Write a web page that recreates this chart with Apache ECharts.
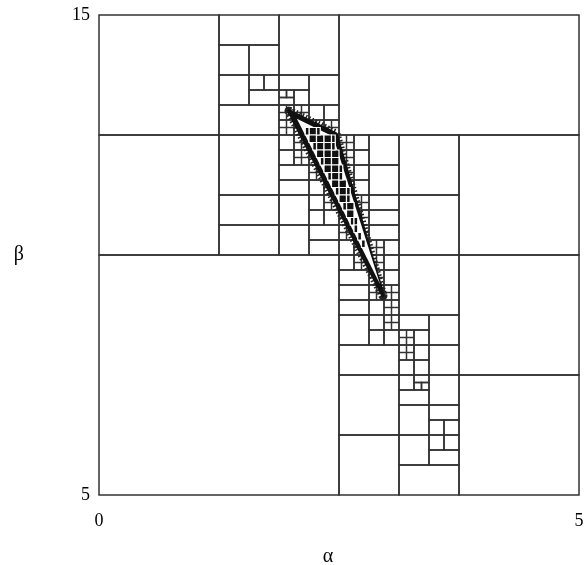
<!DOCTYPE html>
<html>
<head>
<meta charset="utf-8">
<script src="https://cdn.jsdelivr.net/npm/echarts@6/dist/echarts.min.js"></script>
<style>
  html, body { margin: 0; padding: 0; background: #fff; }
  #main { width: 587px; height: 565px; }
</style>
</head>
<body>
<div id="main"></div>
<script>
// paving boxes: [alphaMin, alphaMax, betaMin, betaMax]
var boxes = [
  [0, 2.5, 5, 10], [2.5, 5, 12.5, 15], [3.75, 5, 10, 12.5], [3.75, 5, 7.5, 10], [3.75, 5, 5, 7.5],
  [0, 1.25, 12.5, 15], [0, 1.25, 10, 12.5],
  [1.25, 1.875, 14.375, 15], [1.25, 1.5625, 13.75, 14.375], [1.5625, 1.875, 13.75, 14.375],
  [1.25, 1.5625, 13.125, 13.75], [1.5625, 1.71875, 13.4375, 13.75], [1.71875, 1.875, 13.4375, 13.75],
  [1.5625, 1.875, 13.125, 13.4375], [1.25, 1.875, 12.5, 13.125],
  [1.875, 2.5, 13.75, 15], [1.875, 2.1875, 13.4375, 13.75], [2.1875, 2.5, 13.125, 13.75],
  [2.03125, 2.1875, 13.125, 13.4375], [1.875, 1.953125, 13.28125, 13.4375],
  [1.953125, 2.03125, 13.28125, 13.4375], [1.875, 2.03125, 13.125, 13.28125],
  [2.1875, 2.34375, 12.8125, 13.125], [2.34375, 2.5, 12.8125, 13.125],
  [1.25, 1.875, 11.25, 12.5], [1.25, 1.875, 10.625, 11.25], [1.25, 1.875, 10, 10.625],
  [1.875, 2.1875, 10.625, 11.25], [1.875, 2.1875, 10, 10.625],
  [1.875, 2.03125, 12.1875, 12.5], [1.875, 2.03125, 11.875, 12.1875],
  [2.1875, 2.34375, 12.1875, 12.5], [2.34375, 2.5, 11.875, 12.1875],
  [1.875, 2.1875, 11.5625, 11.875], [1.875, 2.1875, 11.25, 11.5625],
  [2.1875, 2.34375, 11.25, 11.5625], [2.1875, 2.34375, 10.9375, 11.25],
  [2.1875, 2.34375, 10.625, 10.9375], [2.34375, 2.5, 10.625, 10.9375],
  [2.1875, 2.5, 10.3125, 10.625], [2.1875, 2.5, 10, 10.3125],
  [2.65625, 2.8125, 12.1875, 12.5], [2.65625, 2.8125, 11.875, 12.1875],
  [2.65625, 2.8125, 11.5625, 11.875], [2.65625, 2.8125, 11.25, 11.5625],
  [2.8125, 3.125, 11.875, 12.5], [2.8125, 3.125, 11.25, 11.875],
  [2.8125, 3.125, 10.9375, 11.25], [2.8125, 3.125, 10.625, 10.9375],
  [2.8125, 3.125, 10.3125, 10.625], [2.96875, 3.125, 10, 10.3125], [2.5, 2.65625, 10, 10.3125],
  [3.125, 3.75, 11.25, 12.5], [3.125, 3.75, 10, 11.25],
  [2.5, 2.65625, 9.6875, 10], [2.5, 2.8125, 9.375, 9.6875],
  [2.96875, 3.125, 9.6875, 10], [2.96875, 3.125, 9.375, 9.6875],
  [2.5, 2.8125, 9.0625, 9.375], [2.5, 2.8125, 8.75, 9.0625], [2.8125, 2.96875, 8.75, 9.0625],
  [3.125, 3.75, 8.75, 10], [2.5, 2.8125, 8.125, 8.75],
  [2.8125, 2.96875, 8.4375, 8.75], [2.8125, 2.96875, 8.125, 8.4375], [2.96875, 3.125, 8.125, 8.4375],
  [2.5, 3.125, 7.5, 8.125],
  [3.125, 3.4375, 8.4375, 8.75], [3.28125, 3.4375, 8.125, 8.4375],
  [3.28125, 3.4375, 7.8125, 8.125], [3.125, 3.28125, 7.5, 7.8125], [3.28125, 3.4375, 7.5, 7.8125],
  [3.4375, 3.75, 8.125, 8.75], [3.4375, 3.75, 7.5, 8.125],
  [2.5, 3.125, 6.25, 7.5], [2.5, 3.125, 5, 6.25],
  [3.125, 3.28125, 7.1875, 7.5], [3.28125, 3.4375, 7.34375, 7.5],
  [3.28125, 3.359375, 7.1875, 7.34375], [3.359375, 3.4375, 7.1875, 7.34375],
  [3.125, 3.4375, 6.875, 7.1875], [3.4375, 3.75, 6.875, 7.5], [3.125, 3.4375, 6.25, 6.875],
  [3.4375, 3.75, 6.5625, 6.875], [3.4375, 3.59375, 6.25, 6.5625], [3.59375, 3.75, 6.25, 6.5625],
  [3.125, 3.4375, 5.625, 6.25], [3.4375, 3.59375, 5.9375, 6.25], [3.59375, 3.75, 5.9375, 6.25],
  [3.4375, 3.75, 5.625, 5.9375], [3.125, 3.75, 5, 5.625]
];

// boxes bisected once more in both directions (drawn with their quarters)
var splitBoxes = [
  [1.875, 2.03125, 12.8125, 13.125], [2.03125, 2.1875, 12.8125, 13.125],
  [1.875, 2.03125, 12.5, 12.8125], [2.03125, 2.1875, 12.5, 12.8125],
  [2.1875, 2.34375, 12.5, 12.8125], [2.34375, 2.5, 12.5, 12.8125],
  [2.03125, 2.1875, 12.1875, 12.5], [2.34375, 2.5, 12.1875, 12.5], [2.5, 2.65625, 12.1875, 12.5],
  [2.03125, 2.1875, 11.875, 12.1875], [2.1875, 2.34375, 11.875, 12.1875], [2.5, 2.65625, 11.875, 12.1875],
  [2.1875, 2.34375, 11.5625, 11.875], [2.34375, 2.5, 11.5625, 11.875], [2.5, 2.65625, 11.5625, 11.875],
  [2.34375, 2.5, 11.25, 11.5625], [2.5, 2.65625, 11.25, 11.5625],
  [2.34375, 2.5, 10.9375, 11.25], [2.5, 2.65625, 10.9375, 11.25], [2.65625, 2.8125, 10.9375, 11.25],
  [2.5, 2.65625, 10.625, 10.9375], [2.65625, 2.8125, 10.625, 10.9375],
  [2.5, 2.65625, 10.3125, 10.625], [2.65625, 2.8125, 10.3125, 10.625],
  [2.65625, 2.8125, 10, 10.3125], [2.8125, 2.96875, 10, 10.3125],
  [2.65625, 2.8125, 9.6875, 10], [2.8125, 2.96875, 9.6875, 10],
  [2.8125, 2.96875, 9.375, 9.6875], [2.8125, 2.96875, 9.0625, 9.375],
  [2.96875, 3.125, 9.0625, 9.375], [2.96875, 3.125, 8.75, 9.0625], [2.96875, 3.125, 8.4375, 8.75],
  [3.125, 3.28125, 8.125, 8.4375], [3.125, 3.28125, 7.8125, 8.125]
];

// solution set: thin sliver outline and its inner white part
var bandOuter = [[1.979, 13.0], [2.469, 12.521], [2.958, 9.15]];
var bandInner = [[2.0615, 12.84], [2.4385, 12.469], [2.927, 9.396]];

// boxes proved inside the set
var innerBoxes = [
  [2.1875, 2.265625, 12.5, 12.65625], [2.1875, 2.265625, 12.34375, 12.5],
  [2.265625, 2.34375, 12.34375, 12.5], [2.34375, 2.421875, 12.34375, 12.5],
  [2.265625, 2.34375, 12.1875, 12.34375], [2.34375, 2.421875, 12.1875, 12.34375],
  [2.265625, 2.34375, 12.03125, 12.1875], [2.34375, 2.421875, 12.03125, 12.1875],
  [2.421875, 2.5, 12.03125, 12.1875],
  [2.34375, 2.421875, 11.875, 12.03125], [2.421875, 2.5, 11.875, 12.03125],
  [2.34375, 2.421875, 11.71875, 11.875], [2.421875, 2.5, 11.71875, 11.875],
  [2.421875, 2.5, 11.5625, 11.71875], [2.421875, 2.5, 11.40625, 11.5625],
  [2.5, 2.578125, 11.40625, 11.5625], [2.5, 2.578125, 11.25, 11.40625],
  [2.5, 2.578125, 11.09375, 11.25], [2.578125, 2.65625, 10.9375, 11.09375],
  [2.578125, 2.65625, 10.78125, 10.9375],
  [2.1484375, 2.1875, 12.5, 12.65625], [2.265625, 2.3046875, 12.5, 12.65625],
  [2.421875, 2.4609375, 12.34375, 12.5], [2.2265625, 2.265625, 12.1875, 12.34375],
  [2.421875, 2.4609375, 12.1875, 12.34375], [2.3046875, 2.34375, 11.875, 12.03125],
  [2.5, 2.5390625, 11.71875, 11.875], [2.3828125, 2.421875, 11.5625, 11.71875],
  [2.5, 2.5390625, 11.5625, 11.71875], [2.4609375, 2.5, 11.25, 11.40625],
  [2.578125, 2.6171875, 11.25, 11.40625], [2.578125, 2.6171875, 11.09375, 11.25],
  [2.5390625, 2.578125, 10.9375, 11.09375], [2.6171875, 2.65625, 10.625, 10.78125],
  [2.65625, 2.6953125, 10.625, 10.78125], [2.65625, 2.6953125, 10.46875, 10.625],
  [2.6953125, 2.734375, 10.3125, 10.46875], [2.734375, 2.7734375, 10.15625, 10.3125]
];

var xTicks = [0, 5];
var yTicks = [5, 15];

var lineColor = '#333';
var font = 'Liberation Serif';

var myChart = echarts.init(document.getElementById('main'));

function boxRect(api, a0, a1, b0, b1) {
    var p0 = api.coord([a0, b1]);
    var p1 = api.coord([a1, b0]);
    return { x: p0[0], y: p0[1], width: p1[0] - p0[0], height: p1[1] - p0[1] };
}

function toPx(api, pts) {
    return pts.map(function (p) { return api.coord(p); });
}

var option = {
    animation: false,
    grid: { left: 99, right: 8, top: 15, bottom: 70, outerBoundsMode: 'none' },
    xAxis: {
        type: 'value',
        min: xTicks[0], max: xTicks[1], interval: 5,
        name: 'α', nameLocation: 'middle', nameGap: 52,
        nameTextStyle: { fontFamily: font, fontSize: 20, color: '#000', padding: [0, 22, 0, 0] },
        axisLine: { show: false }, axisTick: { show: false }, splitLine: { show: false },
        axisLabel: { fontFamily: font, fontSize: 18, color: '#000', margin: 17 }
    },
    yAxis: {
        type: 'value',
        min: yTicks[0], max: yTicks[1], interval: 5,
        name: 'β', nameLocation: 'middle', nameGap: 75, nameRotate: 0,
        nameTextStyle: { fontFamily: font, fontSize: 20, color: '#000' },
        axisLine: { show: false }, axisTick: { show: false }, splitLine: { show: false },
        axisLabel: {
            fontFamily: font, fontSize: 18, color: '#000', margin: 9,
            formatter: function (v) { return yTicks.indexOf(v) >= 0 ? String(v) : ''; }
        }
    },
    series: [
        {
            type: 'custom',
            data: boxes,
            encode: { x: [0, 1], y: [2, 3] },
            renderItem: function (params, api) {
                return {
                    type: 'rect',
                    shape: boxRect(api, api.value(0), api.value(1), api.value(2), api.value(3)),
                    style: { fill: null, stroke: lineColor, lineWidth: 1.5 }
                };
            }
        },
        {
            type: 'custom',
            data: splitBoxes,
            encode: { x: [0, 1], y: [2, 3] },
            renderItem: function (params, api) {
                var r = boxRect(api, api.value(0), api.value(1), api.value(2), api.value(3));
                var st = { fill: null, stroke: lineColor, lineWidth: 1.5 };
                return {
                    type: 'group',
                    children: [
                        { type: 'rect', shape: r, style: st },
                        { type: 'line', shape: { x1: r.x + r.width / 2, y1: r.y, x2: r.x + r.width / 2, y2: r.y + r.height }, style: st },
                        { type: 'line', shape: { x1: r.x, y1: r.y + r.height / 2, x2: r.x + r.width, y2: r.y + r.height / 2 }, style: st }
                    ]
                };
            }
        },
        {
            // fine boxes along the boundary of the set, then the set itself
            type: 'custom',
            data: [0],
            renderItem: function (params, api) {
                return {
                    type: 'group',
                    children: [
                        { type: 'polygon', shape: { points: toPx(api, bandOuter) },
                          style: { fill: null, stroke: '#222', lineWidth: 9, lineJoin: 'round', lineDash: [1.5, 2] } },
                        { type: 'polygon', shape: { points: toPx(api, bandOuter) },
                          style: { fill: '#111', stroke: '#111', lineWidth: 3.5, lineJoin: 'round' } },
                        { type: 'polygon', shape: { points: toPx(api, bandInner) },
                          style: { fill: '#fff' } }
                    ]
                };
            }
        },
        {
            type: 'custom',
            data: innerBoxes,
            encode: { x: [0, 1], y: [2, 3] },
            renderItem: function (params, api) {
                return {
                    type: 'rect',
                    shape: boxRect(api, api.value(0), api.value(1), api.value(2), api.value(3)),
                    style: { fill: '#111', stroke: '#fff', lineWidth: 1.2 }
                };
            }
        }
    ]
};
myChart.setOption(option);
</script>
</body>
</html>
